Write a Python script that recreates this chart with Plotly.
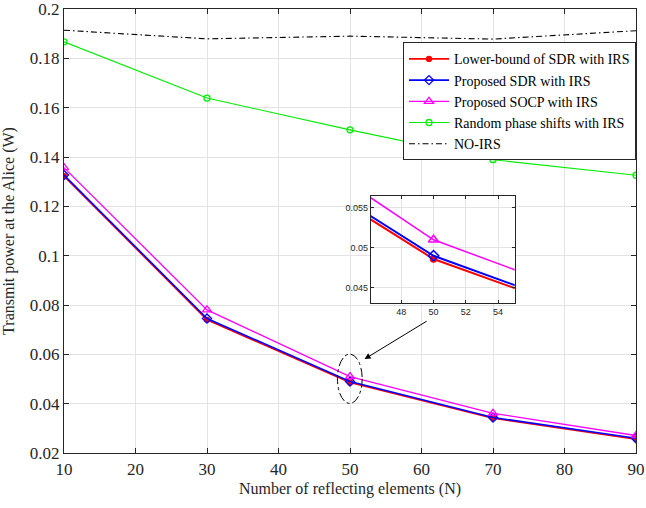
import plotly.graph_objects as go

N = [10, 30, 50, 70, 90]
lower_sdr = [0.1322, 0.0740, 0.0486, 0.0341, 0.0256]
prop_sdr = [0.1327, 0.0745, 0.0490, 0.0344, 0.0260]
prop_socp = [0.1357, 0.0780, 0.0510, 0.0361, 0.0271]
random_ps = [0.1867, 0.1639, 0.1510, 0.1389, 0.1326]
no_irs = [0.1914, 0.1879, 0.1890, 0.1878, 0.1912]

names = ["Lower-bound of SDR with IRS", "Proposed SDR with IRS",
         "Proposed SOCP with IRS", "Random phase shifts with IRS", "NO-IRS"]

serif = "Liberation Serif, Times New Roman, serif"
sans = "Liberation Sans, Arial, sans-serif"
txt = "#262626"
grid = "#e3e3e3"

fig = go.Figure()

specs = [
    (lower_sdr, "#ff0000", "circle", 5, 1.6),
    (prop_sdr, "#0000ff", "diamond-open", 7, 1.6),
    (prop_socp, "#ff00ff", "triangle-up-open", 8, 1.3),
    (random_ps, "#00ee00", "circle-open", 6, 1.1),
]
for (vals, col, sym, ms, lw), nm in zip(specs, names[:4]):
    fig.add_trace(go.Scatter(x=N, y=vals, name=nm, mode="lines+markers",
                             line=dict(color=col, width=lw),
                             marker=dict(symbol=sym, size=ms, color=col,
                                         line=dict(color=col, width=1.3))))
fig.add_trace(go.Scatter(x=N, y=no_irs, name=names[4], mode="lines",
                         line=dict(color="black", width=1.1, dash="6px,3px,1.5px,3px")))

# inset traces
for vals, col, sym, ms, lw in [
    (lower_sdr, "#ff0000", "circle", 6, 2),
    (prop_sdr, "#0000ff", "diamond-open", 8, 2),
    (prop_socp, "#ff00ff", "triangle-up-open", 9, 1.5),
]:
    fig.add_trace(go.Scatter(x=N, y=vals, mode="lines+markers", showlegend=False,
                             xaxis="x2", yaxis="y2",
                             line=dict(color=col, width=lw),
                             marker=dict(symbol=sym, size=ms, color=col,
                                         line=dict(color=col, width=1.5))))

axis_common = dict(showline=True, linecolor="#262626", linewidth=1.2, mirror="ticks",
                   ticks="inside", ticklen=5, tickcolor="#262626",
                   showgrid=True, gridcolor=grid, gridwidth=1, zeroline=False,
                   automargin=False, ticklabeloverflow="allow")

fig.update_layout(
    width=646, height=508,
    margin=dict(l=64, r=10, t=9, b=55),
    paper_bgcolor="white", plot_bgcolor="white",
    font=dict(family=serif, color=txt),
    xaxis=dict(range=[10, 90], tickvals=[10, 20, 30, 40, 50, 60, 70, 80, 90],
               tickfont=dict(size=17, family=serif, color=txt),
               title=dict(text="Number of reflecting elements (N)", standoff=5,
                          font=dict(size=16, family=serif, color=txt)),
               **axis_common),
    yaxis=dict(range=[0.02, 0.2], tickvals=[0.02, 0.04, 0.06, 0.08, 0.1, 0.12, 0.14, 0.16, 0.18, 0.2],
               ticktext=["0.02", "0.04", "0.06", "0.08", "0.1", "0.12", "0.14", "0.16", "0.18", "0.2"],
               tickfont=dict(size=17, family=serif, color=txt),
               title=dict(text="Transmit power at the Alice (W)",
                          font=dict(size=16, family=serif, color=txt)),
               **axis_common),
    xaxis2=dict(domain=[0.5365, 0.788], anchor="y2", range=[46.12, 55.03],
                tickvals=[48, 50, 52, 54], tickfont=dict(size=9, family=sans, color=txt),
                **{**axis_common, "ticklen": 3}),
    yaxis2=dict(domain=[0.3378, 0.5794], anchor="x2", range=[0.0431, 0.0565],
                tickvals=[0.045, 0.05, 0.055], ticktext=["0.045", "0.05", "0.055"],
                tickfont=dict(size=9, family=sans, color=txt),
                **{**axis_common, "ticklen": 3}),
    legend=dict(x=1, xanchor="right", y=0.925, yanchor="top",
                bgcolor="white", bordercolor="#262626", borderwidth=1,
                font=dict(size=14, family=serif, color="black"),
                tracegroupgap=0, itemwidth=40),
    showlegend=True,
)

fig.add_shape(type="circle", xref="x", yref="y", x0=48.24, x1=51.7, y0=0.0401, y1=0.0601,
              line=dict(color="black", width=1, dash="dashdot"))
fig.add_annotation(x=52.04, y=0.0581, ax=60.93, ay=0.0738, xref="x", yref="y",
                   axref="x", ayref="y", text="", showarrow=True,
                   arrowhead=2, arrowsize=1.2, arrowwidth=1, arrowcolor="black")

fig.write_html("out.html", config={"displayModeBar": False},
               post_script="document.body.style.margin='0';")
